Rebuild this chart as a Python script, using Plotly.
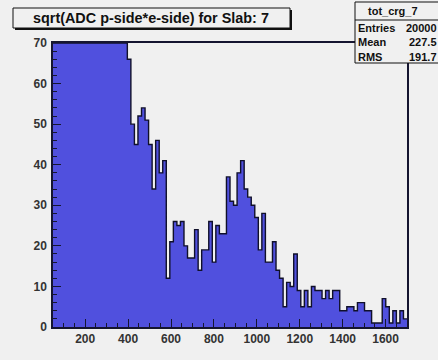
import numpy as np
import plotly.graph_objects as go

# ---- data ----
x_min, x_max = 50.0, 1700.0
counts = [70] * 21 + [
    66, 50, 45, 52, 54, 51, 45, 34, 46, 38,
    41, 12, 21, 26, 25, 26, 20, 17, 17, 24,
    14, 19, 19, 26, 16, 25, 23, 23, 37, 31,
    30, 38, 41, 34, 32, 30, 27, 19, 28, 16,
    16, 21, 14, 12, 5, 11, 10, 18, 9, 5,
    9, 5, 10, 9, 9, 7, 9, 7, 9, 9,
    4, 4, 5, 5, 4, 6, 6, 4, 4, 1,
    1, 1, 7, 5, 1, 4, 1, 4, 2,
]
x_ticks = [200, 400, 600, 800, 1000, 1200, 1400, 1600]
y_ticks = [0, 10, 20, 30, 40, 50, 60, 70]
title_text = "sqrt(ADC p-side*e-side) for Slab: 7"
stats_name = "tot_crg_7"
stats_rows = [("Entries", "20000"), ("Mean", "227.5"), ("RMS", "191.7")]

edges = np.linspace(x_min, x_max, len(counts) + 1)
ys = list(counts) + [counts[-1]]

W, H = 438, 360
L, R, T, B = 53, 31, 43, 33
PW, PH = W - L - R, H - T - B

def px(x):
    return (x - L) / PW

def py(y):
    return (H - B - y) / PH

BG = "#f0f0f0"
FILL = "rgb(80,80,222)"
FONT = "Liberation Sans, Arial, Helvetica, sans-serif"

fig = go.Figure()
fig.add_trace(go.Scatter(
    x=edges, y=ys, mode="lines", line_shape="hv",
    fill="tozeroy", fillcolor=FILL,
    line=dict(color="#10102a", width=1.4),
    hoverinfo="skip", showlegend=False,
))

axis_common = dict(
    showgrid=False, zeroline=False, showline=True, mirror=True,
    linecolor="#151530", linewidth=1.5,
    ticks="inside", tickcolor="#151530", tickwidth=1,
    tickfont=dict(family=FONT, size=12, color="#333333", weight="bold"),
)

fig.update_xaxes(
    range=[x_min, x_max], tickvals=x_ticks, ticklen=8,
    minor=dict(dtick=50, ticks="inside", ticklen=4, tickcolor="#151530"),
    **axis_common,
)
fig.update_yaxes(
    range=[0, 70], tickvals=y_ticks, ticklen=8,
    minor=dict(dtick=2, ticks="inside", ticklen=4, tickcolor="#151530"),
    ticklabelstandoff=2,
    **axis_common,
)

shapes = []
annotations = []

# title box with shadow
shapes.append(dict(type="rect", xref="paper", yref="paper",
                   x0=px(15), x1=px(292), y0=py(30), y1=py(10),
                   fillcolor="#111111", line=dict(width=0), layer="above"))
shapes.append(dict(type="rect", xref="paper", yref="paper",
                   x0=px(13), x1=px(290), y0=py(28), y1=py(8),
                   fillcolor=BG, line=dict(color="#111111", width=1), layer="above"))
annotations.append(dict(xref="paper", yref="paper", x=px(151), y=py(18),
                        text="<b>" + title_text + "</b>", showarrow=False,
                        xanchor="center", yanchor="middle",
                        font=dict(family=FONT, size=14.4, color="#111111")))

# stats box
shapes.append(dict(type="rect", xref="paper", yref="paper",
                   x0=px(355), x1=px(445), y0=py(63), y1=py(2),
                   fillcolor=BG, line=dict(color="#111111", width=1), layer="above"))
shapes.append(dict(type="line", xref="paper", yref="paper",
                   x0=px(355), x1=px(445), y0=py(20), y1=py(20),
                   line=dict(color="#111111", width=1), layer="above"))
annotations.append(dict(xref="paper", yref="paper", x=px(393), y=py(11),
                        text="<b>" + stats_name + "</b>", showarrow=False,
                        xanchor="center", yanchor="middle",
                        font=dict(family=FONT, size=11, color="#111111")))
for i, (k, v) in enumerate(stats_rows):
    yy = 28 + i * 14.3
    annotations.append(dict(xref="paper", yref="paper", x=px(356), y=py(yy),
                            text="<b>" + k + "</b>", showarrow=False,
                            xanchor="left", yanchor="middle",
                            font=dict(family=FONT, size=11, color="#111111")))
    annotations.append(dict(xref="paper", yref="paper", x=px(439), y=py(yy),
                            text="<b>" + v + "</b>", showarrow=False,
                            xanchor="right", yanchor="middle",
                            font=dict(family=FONT, size=11, color="#111111")))

fig.update_layout(
    width=W, height=H,
    margin=dict(l=L, r=R, t=T, b=B, pad=0),
    paper_bgcolor=BG, plot_bgcolor=BG,
    shapes=shapes, annotations=annotations,
    showlegend=False,
)

fig.write_html("out.html", config={"displayModeBar": False})
